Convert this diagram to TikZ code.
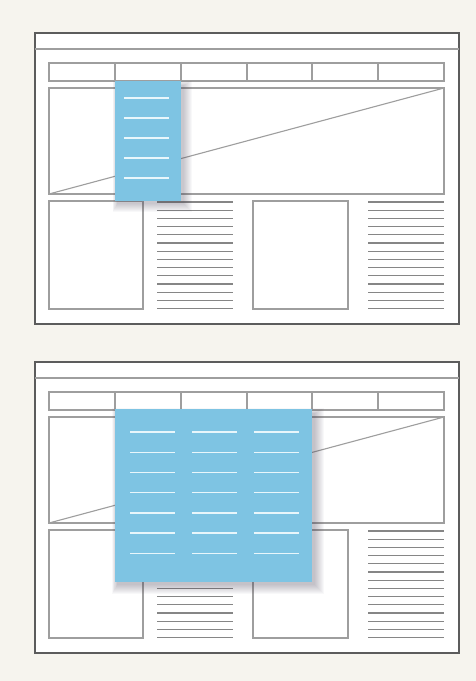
\documentclass[tikz,border=0pt]{standalone}

\definecolor{paper}{HTML}{F6F4EE}
\definecolor{framegray}{HTML}{5C5C5C}
\definecolor{wiregray}{HTML}{9E9E9E}
\definecolor{menublue}{HTML}{7EC4E3}
\definecolor{menuwhite}{HTML}{E8F6FB}
\definecolor{shade}{HTML}{4A4458}

\begin{document}
\begin{tikzpicture}[
  x=1pt, y=-1pt,
  page/.style={draw=framegray, line width=2.2pt, fill=white},
  wire/.style={draw=wiregray, line width=1.1pt},
  textline/.style={draw=wiregray!85!black, line width=1.2pt},
  menubox/.style={fill=menublue},
  softshade/.style={fill=shade, fill opacity=0.035},
  menuline/.style={draw=menuwhite, line width=1.4pt}
]

\fill[paper] (0,0) rectangle (476,681);
\useasboundingbox (0,0) rectangle (476,681);

\foreach \oy in {0,329} {
  \begin{scope}[shift={(0,\oy)}]
    \draw[page] (35,33) rectangle (459,324);
    \draw[wire] (35,49) -- (459,49);
    \draw[wire] (49,63) rectangle (444,81);
    \foreach \x in {115,181,247,312,378}
      \draw[wire] (\x,63) -- (\x,81);
    \draw[wire] (49,88) rectangle (444,194);
    \draw[wire] (49,194) -- (444,88);
    \draw[wire] (49,201) rectangle (143,309);
    \draw[wire] (253,201) rectangle (348,309);
    \foreach \i in {0,...,13} {
      \draw[textline] (157,{202+8.2*\i}) -- (233,{202+8.2*\i});
      \draw[textline] (368,{202+8.2*\i}) -- (444,{202+8.2*\i});
    }
  \end{scope}
}

\foreach \s in {1,...,9}
  \fill[softshade] ({118-\s*0.6},{86-\s*0.6}) rectangle ({183+\s},{203+\s});
\path[menubox] (115,81) rectangle (181,201);
\foreach \y in {98,118,...,178}
  \draw[menuline] (124,\y) -- (169,\y);

\foreach \s in {1,...,10}
  \fill[softshade] ({118-\s*0.6},{414-\s*0.6}) rectangle ({314+\s},{584+\s});
\path[menubox] (115,409) rectangle (312,582);
\foreach \x in {130,192,254}
  \foreach \i in {0,...,6}
    \draw[menuline] (\x,{432+20.2*\i}) -- ++(45,0);

\end{tikzpicture}
\end{document}
